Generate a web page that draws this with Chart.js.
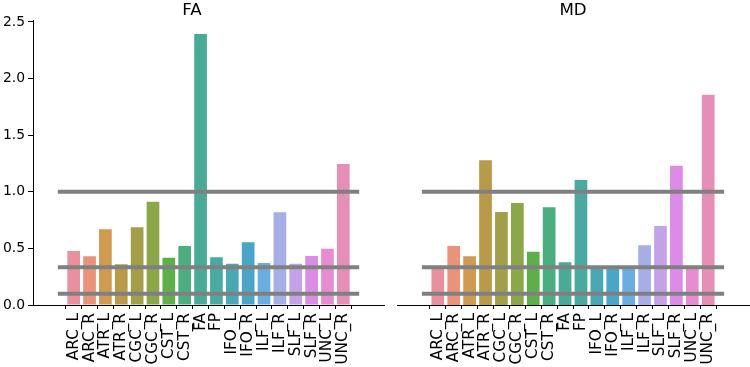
<!DOCTYPE html>
<html>
<head>
<meta charset="utf-8">
<script src="https://cdn.jsdelivr.net/npm/chart.js@4.4.1/dist/chart.umd.min.js"></script>
<style>
  body { margin: 0; background: #fff; }
  #wrap { position: relative; width: 750px; height: 367px; }
  canvas { position: absolute; top: 0; }
  #faChart { left: 0; }
  #mdChart { left: 390px; }
</style>
</head>
<body>
<div id="wrap">
  <canvas id="faChart" width="390" height="367"></canvas>
  <canvas id="mdChart" width="360" height="367"></canvas>
</div>
<script>
const labels = ['ARC_L', 'ARC_R', 'ATR_L', 'ATR_R', 'CGC_L', 'CGC_R', 'CST_L', 'CST_R', 'FA',
    'FP', 'IFO_L', 'IFO_R', 'ILF_L', 'ILF_R', 'SLF_L', 'SLF_R', 'UNC_L', 'UNC_R'];

const faValues = [0.477, 0.430, 0.669, 0.360, 0.686, 0.913, 0.418, 0.521, 2.394,
    0.421, 0.365, 0.554, 0.371, 0.819, 0.365, 0.433, 0.497, 1.246];

const mdValues = [0.318, 0.521, 0.430, 1.278, 0.822, 0.901, 0.471, 0.863, 0.377,
    1.104, 0.318, 0.318, 0.318, 0.527, 0.698, 1.230, 0.318, 1.858];

const barColors = ['#e8909e', '#e8937a', '#d09a50', '#b89a4a', '#a39e4a', '#8ca64a',
    '#5eae4a', '#4aae80', '#4aaa98', '#4aaaa2', '#4aa8b4', '#4aa6c8', '#6aaee0',
    '#a6aee6', '#c3a2e8', '#dc8ce6', '#e88cd2', '#e68fb6'];

const refLines = [1.0, 0.333, 0.1];
const yTicks = [0, 0.5, 1.0, 1.5, 2.0, 2.5];

const FONT = 'DejaVu Sans';

function makePanel(canvasId, title, values, showY, padLeft, padRight) {
    const datasets = refLines.map(function(v) {
        return {
            type: 'line',
            data: [{ x: -1, y: v }, { x: 18, y: v }],
            borderColor: '#808080',
            borderWidth: 4,
            pointRadius: 0,
            order: 0
        };
    });
    datasets.push({
        type: 'bar',
        data: values.map(function(v, i) { return { x: i, y: v }; }),
        backgroundColor: barColors,
        borderWidth: 0,
        categoryPercentage: 1,
        barPercentage: 0.8,
        order: 1
    });

    return new Chart(document.getElementById(canvasId), {
        type: 'bar',
        data: { datasets: datasets },
        options: {
            responsive: false,
            animation: false,
            devicePixelRatio: 1,
            layout: { padding: { left: padLeft, right: padRight, top: 0, bottom: 0 } },
            plugins: {
                legend: { display: false },
                tooltip: { enabled: false },
                title: {
                    display: true,
                    text: title,
                    color: '#000',
                    font: { family: FONT, size: 16.7, weight: 'normal', lineHeight: 1.1 },
                    padding: { top: 1, bottom: 1 }
                }
            },
            scales: {
                x: {
                    type: 'linear',
                    min: -1.95,
                    max: 18.95,
                    afterBuildTicks: function(axis) {
                        axis.ticks = labels.map(function(_, i) { return { value: i }; });
                    },
                    afterFit: function(axis) { axis.height = 62; },
                    grid: { drawOnChartArea: false, drawTicks: true, tickLength: 4, color: '#000' },
                    border: { display: true, color: '#000', width: 1 },
                    ticks: {
                        color: '#000',
                        font: { family: FONT, size: 15.3 },
                        minRotation: 90,
                        maxRotation: 90,
                        autoSkip: false,
                        padding: 4,
                        callback: function(value) { return labels[value]; }
                    }
                },
                y: {
                    display: showY,
                    min: 0,
                    max: 2.514,
                    afterBuildTicks: function(axis) {
                        axis.ticks = yTicks.map(function(v) { return { value: v }; });
                    },
                    afterFit: function(axis) { if (showY) axis.width = 33; },
                    grid: { drawOnChartArea: false, drawTicks: true, tickLength: 5, color: '#000' },
                    border: { display: true, color: '#000', width: 1 },
                    ticks: {
                        color: '#000',
                        font: { family: FONT, size: 13.9 },
                        padding: 3,
                        callback: function(value) { return value.toFixed(1); }
                    }
                }
            }
        }
    });
}

makePanel('faChart', 'FA', faValues, true, 0, 6);
makePanel('mdChart', 'MD', mdValues, false, 7, 1);
</script>
</body>
</html>
